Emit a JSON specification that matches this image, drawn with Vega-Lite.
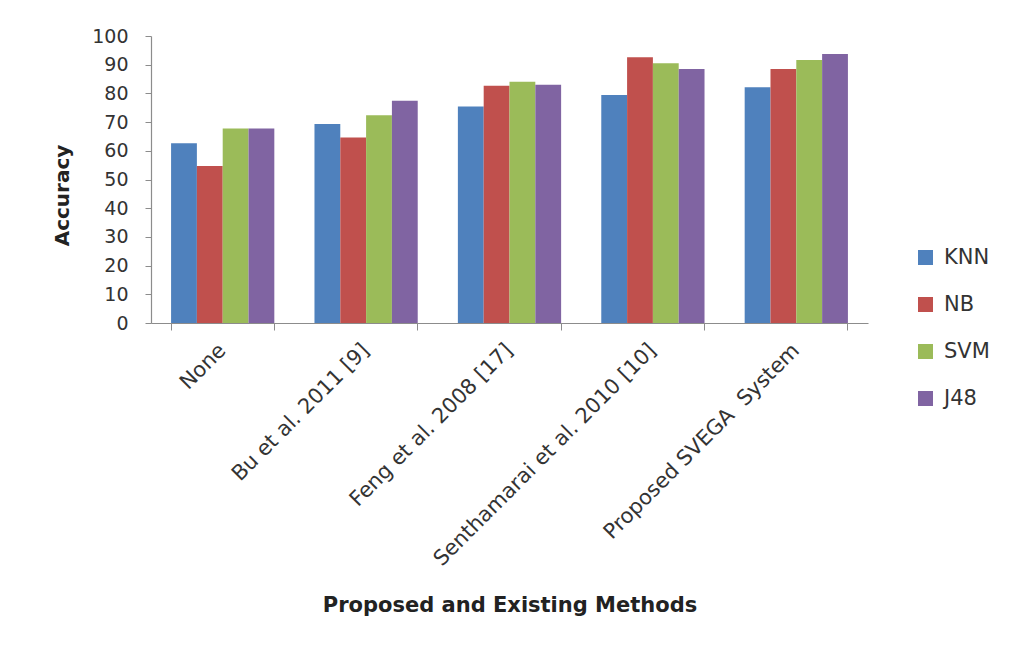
{
  "$schema": "https://vega.github.io/schema/vega-lite/v6.json",
  "width": 717,
  "height": 287,
  "autosize": {"type": "none"},
  "padding": {"left": 151, "top": 36, "right": 143, "bottom": 328},
  "background": "white",
  "config": {"view": {"stroke": null}, "font": "DejaVu Sans"},
  "data": {
    "values": [
      {"method": "None", "classifier": "KNN", "accuracy": 62.6},
      {"method": "None", "classifier": "NB", "accuracy": 54.7},
      {"method": "None", "classifier": "SVM", "accuracy": 67.8},
      {"method": "None", "classifier": "J48", "accuracy": 67.8},
      {"method": "Bu et al. 2011 [9]", "classifier": "KNN", "accuracy": 69.3},
      {"method": "Bu et al. 2011 [9]", "classifier": "NB", "accuracy": 64.6},
      {"method": "Bu et al. 2011 [9]", "classifier": "SVM", "accuracy": 72.4},
      {"method": "Bu et al. 2011 [9]", "classifier": "J48", "accuracy": 77.4},
      {"method": "Feng et al. 2008 [17]", "classifier": "KNN", "accuracy": 75.4},
      {"method": "Feng et al. 2008 [17]", "classifier": "NB", "accuracy": 82.7},
      {"method": "Feng et al. 2008 [17]", "classifier": "SVM", "accuracy": 84.1},
      {"method": "Feng et al. 2008 [17]", "classifier": "J48", "accuracy": 83.0},
      {"method": "Senthamarai et al. 2010 [10]", "classifier": "KNN", "accuracy": 79.4},
      {"method": "Senthamarai et al. 2010 [10]", "classifier": "NB", "accuracy": 92.6},
      {"method": "Senthamarai et al. 2010 [10]", "classifier": "SVM", "accuracy": 90.5},
      {"method": "Senthamarai et al. 2010 [10]", "classifier": "J48", "accuracy": 88.5},
      {"method": "Proposed SVEGA\u00a0 System", "classifier": "KNN", "accuracy": 82.1},
      {"method": "Proposed SVEGA\u00a0 System", "classifier": "NB", "accuracy": 88.5},
      {"method": "Proposed SVEGA\u00a0 System", "classifier": "SVM", "accuracy": 91.6},
      {"method": "Proposed SVEGA\u00a0 System", "classifier": "J48", "accuracy": 93.7}
    ]
  },
  "layer": [
    {
      "mark": {"type": "bar"},
      "encoding": {
        "x": {
          "field": "method", "type": "nominal", "sort": null,
          "scale": {"paddingInner": 0.28, "paddingOuter": 0.14},
          "axis": {
            "orient": "bottom",
            "title": "Proposed and Existing Methods",
            "titleFontSize": 21, "titleFontWeight": "bold", "titleColor": "#222222",
            "titleY": 282, "titleBaseline": "middle",
            "labelAngle": -45, "labelAlign": "right", "labelBaseline": "middle",
            "labelFontSize": 21, "labelColor": "#333333", "labelPadding": 24,
            "ticks": false, "domainColor": "#8c8c8c", "domainWidth": 1.2,
            "labelOverlap": false, "labelLimit": 500
          }
        },
        "xOffset": {"field": "classifier", "type": "nominal", "sort": ["KNN", "NB", "SVM", "J48"], "scale": {"paddingInner": 0}},
        "y": {
          "field": "accuracy", "type": "quantitative",
          "scale": {"domain": [0, 100]},
          "axis": {
            "values": [0, 10, 20, 30, 40, 50, 60, 70, 80, 90, 100],
            "grid": false, "labelOverlap": false,
            "title": "Accuracy",
            "titleFontSize": 20, "titleFontWeight": "bold", "titleColor": "#222222",
            "titleX": -89, "titleY": 159, "titleAngle": -90, "titleBaseline": "middle", "titleAlign": "center",
            "labelFontSize": 19, "labelColor": "#333333", "labelPadding": 17,
            "tickSize": 6, "tickColor": "#8c8c8c", "domainColor": "#8c8c8c", "domainWidth": 1.2
          }
        },
        "color": {
          "field": "classifier", "type": "nominal", "sort": ["KNN", "NB", "SVM", "J48"],
          "scale": {"domain": ["KNN", "NB", "SVM", "J48"], "range": ["#4F81BD", "#C0504D", "#9BBB59", "#8064A2"]},
          "legend": {
            "title": null, "orient": "none", "legendX": 764, "legendY": 211,
            "symbolType": "square", "symbolSize": 225, "symbolStrokeWidth": 0, "symbolOpacity": 1,
            "labelFontSize": 21, "labelColor": "#333333", "rowPadding": 25, "labelOffset": 8
          }
        }
      }
    },
    {
      "mark": {"type": "bar", "opacity": 0},
      "encoding": {
        "x": {
          "field": "method", "type": "nominal", "sort": null,
          "axis": {
            "orient": "bottom", "labels": false, "title": null, "domain": false,
            "bandPosition": 1, "tickExtra": true, "tickSize": 7, "tickColor": "#8c8c8c"
          }
        },
        "xOffset": {"field": "classifier", "type": "nominal", "sort": ["KNN", "NB", "SVM", "J48"]},
        "y": {
          "field": "accuracy", "type": "quantitative",
          "axis": {
            "values": [0, 10, 20, 30, 40, 50, 60, 70, 80, 90, 100],
            "grid": false, "labelOverlap": false,
            "title": "Accuracy",
            "titleFontSize": 20, "titleFontWeight": "bold", "titleColor": "#222222",
            "titleX": -89, "titleY": 159, "titleAngle": -90, "titleBaseline": "middle", "titleAlign": "center",
            "labelFontSize": 19, "labelColor": "#333333", "labelPadding": 17,
            "tickSize": 6, "tickColor": "#8c8c8c", "domainColor": "#8c8c8c", "domainWidth": 1.2
          }
        }
      }
    }
  ],
  "resolve": {"axis": {"x": "independent"}}
}
